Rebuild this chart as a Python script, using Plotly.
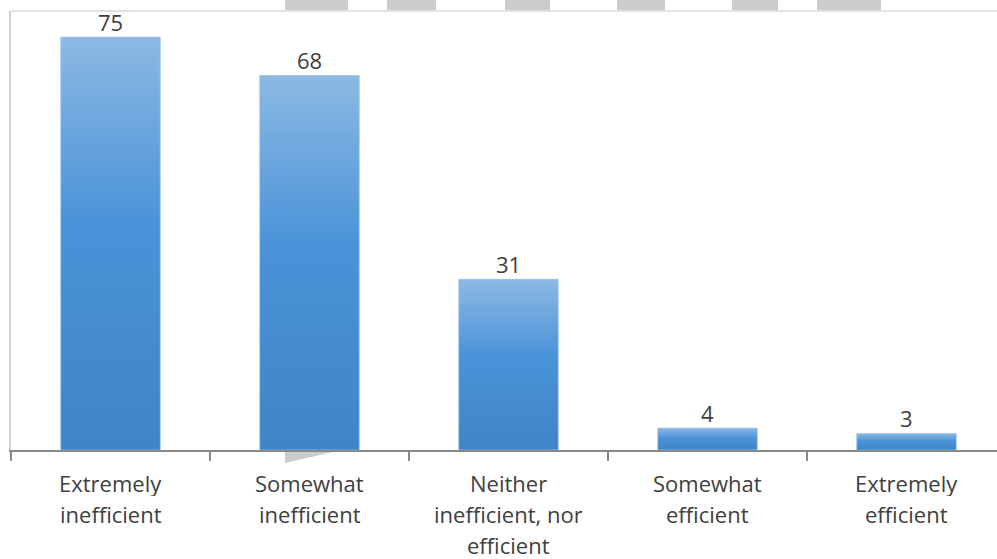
import plotly.graph_objects as go

# Survey responses: perceived efficiency
categories = [
    ["Extremely", "inefficient"],
    ["Somewhat", "inefficient"],
    ["Neither", "inefficient, nor", "efficient"],
    ["Somewhat", "efficient"],
    ["Extremely", "efficient"],
]
values = [75, 68, 31, 4, 3]

W, H = 997, 559
ML, MT, MB = 11, 11, 109
plot_w = W - ML
plot_h = H - MT - MB
cat_px = 199.0                      # width of one category slot in pixels
x_min = -0.5
x_max = x_min + plot_w / cat_px
y_max = 79.7

BAR_W = 0.5
TEXT = "#404040"
FONT = "Open Sans"
FSIZE = 22
DARK, MID, LIGHT = "#3f85c6", "#4a93d8", "#8cb9e3"

fig = go.Figure()
positions = list(range(len(values)))

# base bars
fig.add_trace(go.Bar(
    x=positions, y=values, width=BAR_W,
    marker=dict(color=MID, line=dict(width=0)),
    hoverinfo="skip", showlegend=False,
))

# gradient overlay on each bar
for i, v in zip(positions, values):
    x0, x1 = i - BAR_W / 2, i + BAR_W / 2
    fig.add_trace(go.Scatter(
        x=[x0, x1, x1, x0, x0], y=[0, 0, v, v, 0],
        mode="lines", fill="toself",
        line=dict(width=1, color="rgba(180,210,240,0.6)"),
        fillgradient=dict(type="vertical",
                          colorscale=[[0, DARK], [0.55, MID], [1, LIGHT]]),
        hoverinfo="skip", showlegend=False,
    ))

annotations = []
# value labels above the bars
for i, v in zip(positions, values):
    annotations.append(dict(
        x=i, y=v, xref="x", yref="y", text=str(v), showarrow=False,
        yanchor="middle", yshift=15, height=26,
        font=dict(family=FONT, size=FSIZE, color=TEXT),
    ))
# category labels, one line at a time
for i, lines in zip(positions, categories):
    for k, line in enumerate(lines):
        annotations.append(dict(
            x=i, y=0, xref="x", yref="paper", text=line, showarrow=False,
            yanchor="middle", yshift=-33 - 31 * k, height=26,
            font=dict(family=FONT, size=FSIZE, color=TEXT),
        ))

def px_x(p):
    return (p - ML) / plot_w

def px_y(p):
    return (H - MB - p) / plot_h

shapes = [
    # top border of the chart area
    dict(type="line", xref="paper", yref="paper", x0=0, x1=1.02,
         y0=1, y1=1, line=dict(color="#d9d9d9", width=1.5)),
]
# grey strips along the top edge
for a, b in [(285, 348), (387, 436), (505, 550), (617, 665), (732, 778), (817, 881)]:
    shapes.append(dict(type="rect", xref="paper", yref="paper",
                       x0=px_x(a), x1=px_x(b), y0=px_y(10), y1=px_y(-2),
                       fillcolor="#cccccc", line=dict(width=0), layer="above"))
# small grey wedge under the axis
shapes.append(dict(
    type="path", xref="paper", yref="paper",
    path=f"M {px_x(285)},{px_y(452)} L {px_x(285)},{px_y(463)} L {px_x(333)},{px_y(452)} Z",
    fillcolor="#cccccc", line=dict(width=0),
))

fig.update_layout(
    width=W, height=H,
    margin=dict(l=ML, r=0, t=MT, b=MB),
    paper_bgcolor="white", plot_bgcolor="white",
    bargap=0.5,
    annotations=annotations,
    shapes=shapes,
    xaxis=dict(
        range=[x_min, x_max], showgrid=False, zeroline=False,
        showline=True, linecolor="#898989", linewidth=2,
        tickvals=positions, ticktext=[""] * len(positions), ticks="",
        minor=dict(tick0=-0.5, dtick=1, ticks="outside", ticklen=9,
                   tickcolor="#898989", tickwidth=2, showgrid=False),
    ),
    yaxis=dict(
        range=[0, y_max], showgrid=False, zeroline=False,
        showline=True, linecolor="#d0d0d0", linewidth=1.5,
        showticklabels=False, ticks="",
    ),
)

fig.write_html("out.html")
